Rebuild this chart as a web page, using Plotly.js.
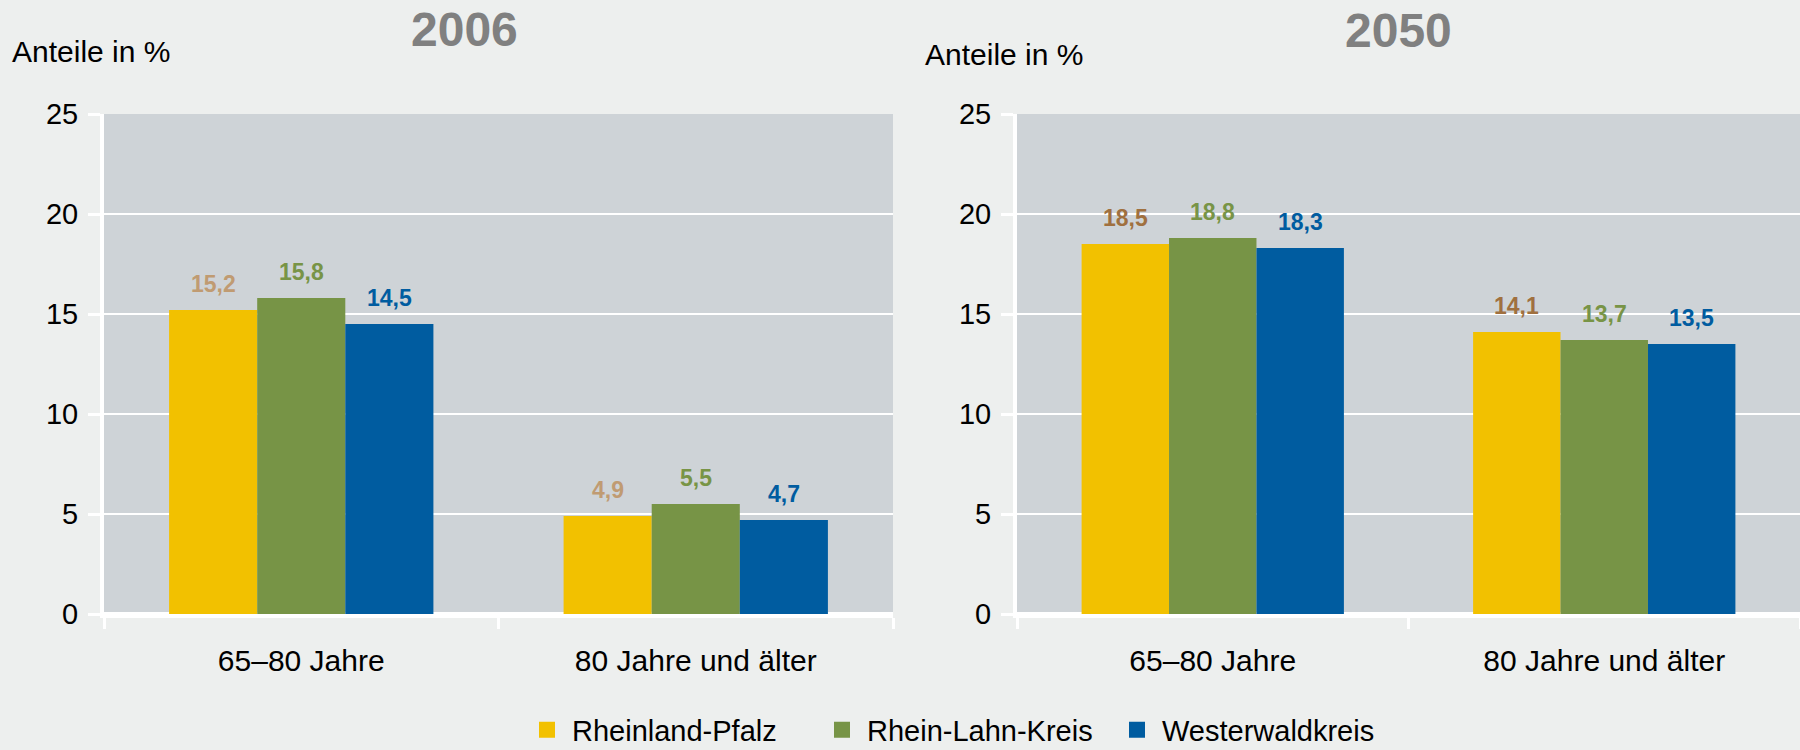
<!DOCTYPE html>
<html>
<head>
<meta charset="utf-8">
<script src="https://cdn.plot.ly/plotly-3.0.1.min.js"></script>
<style>html,body{margin:0;padding:0;background:#edefee;}#chart{width:1800px;height:750px;}</style>
</head>
<body>
<div id="chart"></div>
<script>
// ---- data ----
const categories = ['65–80 Jahre', '80 Jahre und älter'];
const seriesNames = ['Rheinland-Pfalz', 'Rhein-Lahn-Kreis', 'Westerwaldkreis'];
const panelTitles = ['2006', '2050'];
const yAxisLabel = 'Anteile in %';
const rlp2006 = [15.2, 4.9];
const rlk2006 = [15.8, 5.5];
const ww2006 = [14.5, 4.7];
const rlp2050 = [18.5, 14.1];
const rlk2050 = [18.8, 13.7];
const ww2050 = [18.3, 13.5];
const yTickValues = [0, 5, 10, 15, 20, 25];

// ---- styles ----
const FONT = '"Liberation Sans", Arial, Helvetica, sans-serif';
const barColors = ['#f2c100', '#779446', '#005ca0'];
const labelColors = [
  ['#c09b72', '#789446', '#005ca0'],
  ['#a0703f', '#789446', '#005ca0']
];
const BARGAP = 0.33;

const panels = [
  {series: [rlp2006, rlk2006, ww2006], xa: 'x', ya: 'y'},
  {series: [rlp2050, rlk2050, ww2050], xa: 'x2', ya: 'y2'}
];

const traces = [];
const annotations = [];
const fmt = v => v.toFixed(1).replace('.', ',');

panels.forEach((p, pi) => {
  p.series.forEach((vals, si) => {
    traces.push({
      type: 'bar',
      x: categories,
      y: vals,
      name: seriesNames[si],
      xaxis: p.xa,
      yaxis: p.ya,
      marker: {color: barColors[si], line: {width: 0}},
      showlegend: false,
      hoverinfo: 'skip'
    });
    const w = (1 - BARGAP) / seriesNames.length;
    vals.forEach((v, ci) => {
      annotations.push({
        xref: p.xa, yref: p.ya,
        x: ci + (si - (seriesNames.length - 1) / 2) * w,
        y: v,
        text: '<b>' + fmt(v) + '</b>',
        showarrow: false,
        xanchor: 'center', yanchor: 'bottom',
        yshift: 11,
        font: {family: FONT, size: 23, color: labelColors[pi][si]}
      });
    });
  });
});

// legend entries
seriesNames.forEach((n, si) => {
  traces.push({
    type: 'scatter', mode: 'markers',
    x: [null], y: [null],
    name: n,
    xaxis: 'x', yaxis: 'y',
    marker: {symbol: 'square', size: 20, color: barColors[si]},
    showlegend: true,
    hoverinfo: 'skip'
  });
});

// titles
annotations.push(
  {xref: 'paper', yref: 'paper', x: 0.258, y: 0.9613, text: '<b>' + panelTitles[0] + '</b>', showarrow: false,
   xanchor: 'center', yanchor: 'middle', font: {family: FONT, size: 48, color: '#808080'}},
  {xref: 'paper', yref: 'paper', x: 0.777, y: 0.9593, text: '<b>' + panelTitles[1] + '</b>', showarrow: false,
   xanchor: 'center', yanchor: 'middle', font: {family: FONT, size: 48, color: '#808080'}},
  {xref: 'paper', yref: 'paper', x: 10 / 1800, y: 0.9307, text: yAxisLabel, showarrow: false,
   xanchor: 'left', yanchor: 'middle', font: {family: FONT, size: 30, color: '#000'}},
  {xref: 'paper', yref: 'paper', x: 923 / 1800, y: 0.9267, text: yAxisLabel, showarrow: false,
   xanchor: 'left', yanchor: 'middle', font: {family: FONT, size: 30, color: '#000'}}
);

const yDomain = [(750 - 614) / 750, (750 - 114) / 750];

function xAxis(domain) {
  return {
    domain: domain,
    type: 'category',
    showgrid: false,
    showline: true, linecolor: '#ffffff', linewidth: 4,
    ticks: 'outside', tickson: 'boundaries', ticklen: 11, tickwidth: 3, tickcolor: '#ffffff',
    ticklabelstandoff: 17,
    tickfont: {family: FONT, size: 30, color: '#000'},
    zeroline: false, fixedrange: true, automargin: false
  };
}
function yAxis(domain, anchor) {
  return {
    domain: domain, anchor: anchor,
    range: [0, 25],
    tickvals: yTickValues,
    showgrid: true, gridcolor: '#ffffff', gridwidth: 2.5,
    showline: true, linecolor: '#ffffff', linewidth: 4,
    ticks: 'outside', ticklen: 12, tickwidth: 3, tickcolor: '#ffffff',
    ticklabelstandoff: 4,
    tickfont: {family: FONT, size: 29, color: '#000'},
    zeroline: true, zerolinecolor: '#ffffff', zerolinewidth: 4,
    fixedrange: true, automargin: false
  };
}

const layout = {
  width: 1800, height: 750,
  autosize: false,
  margin: {l: 0, r: 0, t: 0, b: 0, autoexpand: false},
  paper_bgcolor: '#edefee',
  plot_bgcolor: '#ced3d7',
  barmode: 'group',
  bargap: BARGAP,
  bargroupgap: 0,
  font: {family: FONT, color: '#000'},
  xaxis: Object.assign(xAxis([104 / 1800, 893 / 1800]), {anchor: 'y'}),
  yaxis: yAxis(yDomain, 'x'),
  xaxis2: Object.assign(xAxis([1017 / 1800, 1]), {anchor: 'y2'}),
  yaxis2: yAxis(yDomain, 'x2'),
  showlegend: true,
  legend: {
    orientation: 'h',
    xref: 'container', yref: 'container',
    x: 522 / 1800, xanchor: 'left',
    y: 20 / 750, yanchor: 'middle',
    font: {family: FONT, size: 29, color: '#000'},
    bgcolor: 'rgba(0,0,0,0)',
    itemwidth: 40,
    entrywidth: 240, entrywidthmode: 'pixels',
    itemclick: false, itemdoubleclick: false
  },
  annotations: annotations
};

Plotly.newPlot('chart', traces, layout, {displayModeBar: false, staticPlot: true});
</script>
</body>
</html>
